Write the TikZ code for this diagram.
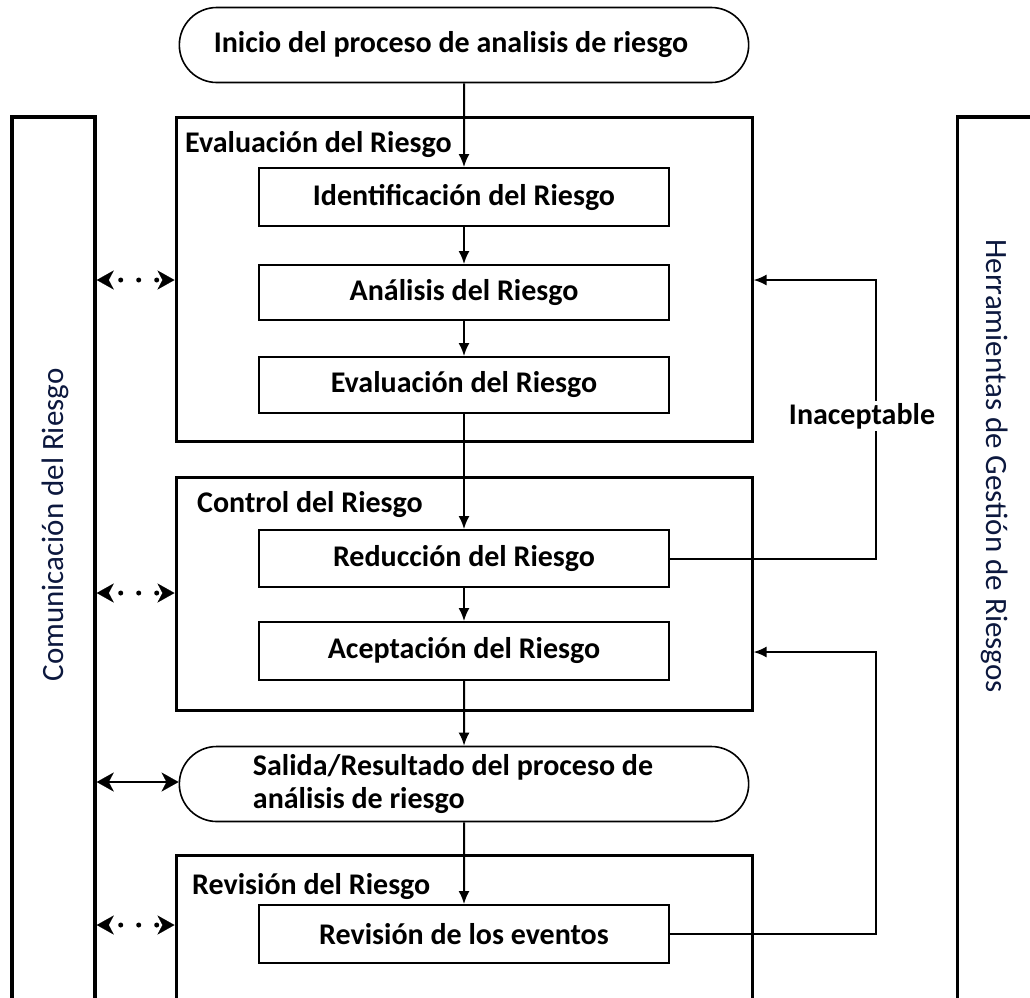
\documentclass[tikz,border=0pt]{standalone}
\usepackage{fontspec}
\setmainfont{Carlito}
\usetikzlibrary{arrows.meta, shapes.misc}
\definecolor{sidetext}{RGB}{12,24,62}

\begin{document}
\begin{tikzpicture}[x=1pt, y=-1pt]
    % group boxes and steps
    \tikzstyle{grp}=[draw, line width=3pt, minimum width=576pt, inner sep=0]
    \tikzstyle{stepbox}=[draw, line width=1.8pt, minimum width=410pt, font=\bfseries\fontsize{30}{34}\selectfont]
    \tikzstyle{term}=[draw, line width=1.6pt, rounded rectangle, minimum width=576pt, minimum height=75pt, font=\bfseries\fontsize{30}{32}\selectfont]
    \tikzstyle{grplabel}=[anchor=west, inner sep=0, font=\bfseries\fontsize{30}{34}\selectfont]
    \tikzstyle{side}=[draw, line width=3.5pt, minimum width=83pt, minimum height=900pt, inner sep=0]
    \tikzstyle{sidelabel}=[inner sep=0, text=sidetext, font=\fontsize{31}{36}\selectfont]
    \tikzstyle{flow}=[line width=2pt, -{Latex[length=13pt, width=11pt]}]
    \tikzstyle{comm}=[line width=2pt, {Stealth[length=17pt, width=19pt, inset=5pt, line width=0.1pt]}-{Stealth[length=17pt, width=19pt, inset=5pt, line width=0.1pt]}]
    \tikzstyle{dotcomm}=[comm, line width=5pt, line cap=round, dash pattern=on 0pt off 18pt, dash phase=6pt]
    \useasboundingbox (0,0) rectangle (1030,997);
    \clip (0,0) rectangle (1030,997);
    % side columns
    \node[side] (comm) at (53.5,567) {};
    \node[sidelabel, rotate=90] (commtxt) at (55,525) {Comunicación del Riesgo};
    \node[side] (tools) at (999,567) {};
    \node[sidelabel, rotate=-90] (toolstxt) at (995,466) {Herramientas de Gestión de Riesgos};
    % start
    \node[term] (inicio) at (464,45) {Inicio del proceso de analisis de riesgo\hspace*{26pt}};
    % Evaluacion del Riesgo
    \node[grp, minimum height=324pt] (evalgrp) at (464,279) {};
    \node[grplabel] (evallbl) at (185,145) {Evaluación del Riesgo};
    \node[stepbox, minimum height=58pt] (ident) at (464,197) {Identificación del Riesgo};
    \node[stepbox, minimum height=55pt] (analisis) at (464,292.5) {Análisis del Riesgo};
    \node[stepbox, minimum height=56pt] (evalst) at (464,385) {Evaluación del Riesgo};
    % Control del Riesgo
    \node[grp, minimum height=233pt] (ctrlgrp) at (464,593.5) {};
    \node[grplabel] (ctrllbl) at (197,505) {Control del Riesgo};
    \node[stepbox, minimum height=57pt] (reduc) at (464,558.5) {Reducción del Riesgo};
    \node[stepbox, minimum height=58pt] (acept) at (464,651) {Aceptación del Riesgo};
    % output
    \node[term, align=left] (salida) at (464,784) {Salida/Resultado del proceso de\hspace*{22pt}\\[1pt]análisis de riesgo};
    % Revision del Riesgo
    \node[grp, minimum height=155pt] (revgrp) at (464,932.5) {};
    \node[grplabel] (revlbl) at (192,886) {Revisión del Riesgo};
    \node[stepbox, minimum height=58pt] (revev) at (464,934) {Revisión de los eventos};
    % main flow
    \draw[flow] (inicio) -- (ident);
    \draw[flow] (ident) -- (analisis);
    \draw[flow] (analisis) -- (evalst);
    \draw[flow] (evalst) -- (reduc);
    \draw[flow] (reduc) -- (acept);
    \draw[flow] (acept) -- (salida);
    \draw[flow] (salida) -- (revev);
    % feedback loops
    \coordinate (fbA) at (876,280);
    \coordinate (fbB) at (876,652);
    \draw[flow] (reduc.east) -| (fbA) -- (evalgrp.east |- fbA);
    \node[fill=white, inner sep=2pt, font=\bfseries\fontsize{30}{34}\selectfont] (inacept) at (862,416) {Inaceptable};
    \draw[flow] (revev.east) -| (fbB) -- (ctrlgrp.east |- fbB);
    % communication
    \coordinate (cA) at (95,280);
    \coordinate (cB) at (95,593);
    \coordinate (cC) at (95,782);
    \coordinate (cD) at (95,925);
    \draw[dotcomm] (comm.east |- cA) -- (evalgrp.west |- cA);
    \draw[dotcomm] (comm.east |- cB) -- (ctrlgrp.west |- cB);
    \draw[comm] (comm.east |- cC) -- (salida.west |- cC);
    \draw[dotcomm] (comm.east |- cD) -- (revgrp.west |- cD);
\end{tikzpicture}
\end{document}
